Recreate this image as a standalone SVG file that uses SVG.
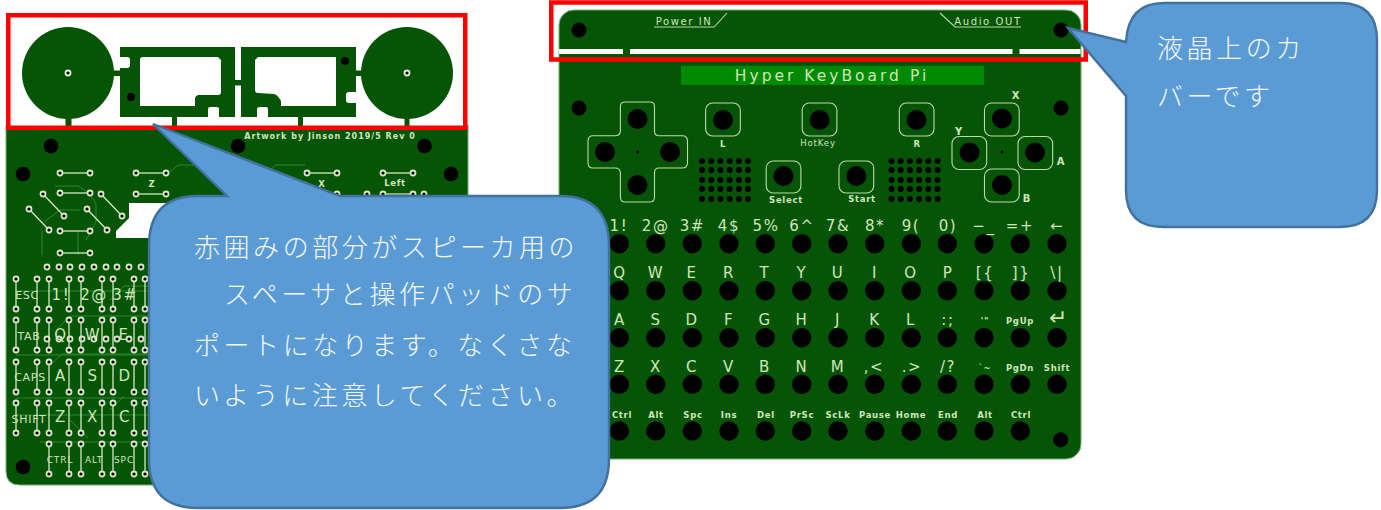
<svg xmlns="http://www.w3.org/2000/svg" xmlns:xlink="http://www.w3.org/1999/xlink" width="1381" height="510" viewBox="0 0 1381 510">
<style>
.board{fill:#065506}
.edge{stroke:#6fb56f;stroke-width:1}
.red{fill:none;stroke:#fe0000;stroke-width:4.5}
.trace{fill:none;stroke:#2c8a2c;stroke-width:1}
.wire{stroke:#d5e8c2;stroke-width:1.3;fill:none}
.outline{fill:none;stroke:#b9dca9;stroke-width:1.1}
.hole{fill:#000}
.t{font-family:"DejaVu Sans",sans-serif;fill:#cfe6ba;text-anchor:middle}
.k{font-size:15px;letter-spacing:1.6px}
.s{font-size:8.5px;letter-spacing:.7px;font-weight:bold}
.m{font-size:9px;letter-spacing:.9px}
.l{font-size:11px;letter-spacing:.7px}
.bubble{fill:#5b9bd5;stroke:#41719c;stroke-width:2.4}
.jp{font-family:"Noto Sans CJK JP",sans-serif;font-size:26px;letter-spacing:3.55px;fill:#f4f8fc;font-weight:300}
</style>
<defs>
<g id="pad"><circle r="3.4" fill="#d8e6c4"/><circle r="1.6" fill="#000"/></g>
<g id="pair"><line class="wire" x1="0" y1="0" x2="0" y2="30"/><use xlink:href="#pad"/><use xlink:href="#pad" y="30"/></g>
<g id="hpair"><line class="wire" x1="0" y1="0" x2="30" y2="0"/><use xlink:href="#pad"/><use xlink:href="#pad" x="30"/></g>
<g id="col"><use xlink:href="#pair" y="279"/><use xlink:href="#pair" y="320"/><use xlink:href="#pair" y="362"/><use xlink:href="#pair" y="403"/></g>
<g id="keys"><circle class="hole" cx="619.3" r="9.7"/><circle class="hole" cx="655.7" r="9.7"/><circle class="hole" cx="692.3" r="9.7"/><circle class="hole" cx="729" r="9.7"/><circle class="hole" cx="765.3" r="9.7"/><circle class="hole" cx="801.7" r="9.7"/><circle class="hole" cx="838" r="9.7"/><circle class="hole" cx="874.7" r="9.7"/><circle class="hole" cx="911.3" r="9.7"/><circle class="hole" cx="947.3" r="9.7"/><circle class="hole" cx="984" r="9.7"/><circle class="hole" cx="1020.3" r="9.7"/></g>
<g id="padrow"><use xlink:href="#pad" x="47"/><use xlink:href="#pad" x="59"/><use xlink:href="#pad" x="70"/><use xlink:href="#pad" x="82"/><use xlink:href="#pad" x="94"/><use xlink:href="#pad" x="106"/><use xlink:href="#pad" x="117"/><use xlink:href="#pad" x="129"/><use xlink:href="#pad" x="141"/></g>
<g id="dotrow"><circle class="hole" cx="0" r="3"/><circle class="hole" cx="9.2" r="3"/><circle class="hole" cx="18.4" r="3"/><circle class="hole" cx="27.6" r="3"/><circle class="hole" cx="36.8" r="3"/><circle class="hole" cx="46" r="3"/></g>
<g id="dotgrid"><use xlink:href="#dotrow" y="161"/><use xlink:href="#dotrow" y="170"/><use xlink:href="#dotrow" y="180"/><use xlink:href="#dotrow" y="189"/><use xlink:href="#dotrow" y="199"/></g>
</defs>
<rect width="1381" height="510" fill="#fff"/>

<g id="left-board">
<path class="board edge" d="M6 125H468V485H20Q6 485 6 471Z"/>
<path d="M129 203H175V238H116V231L129 218Z" fill="#fff"/>
<g class="trace">
<path d="M170 172L178 165H230L240 172"/><path d="M268 172L276 165H305"/>
<path d="M55 186L78 186L88 192L96 204V222L86 240"/><path d="M44 222L60 210H80"/><path d="M42 230V255"/><path d="M78 232V255"/>
<path d="M16 291H148"/><path d="M16 355H148"/><path d="M49 366L62 354H148"/><path d="M16 398H148"/><path d="M16 415H148"/><path d="M40 442H148"/><path d="M70 420L88 438"/><path d="M110 410L124 396"/><path d="M58 328L70 316H148"/><path d="M110 300L124 286H148"/>
</g>
<g>
<circle class="hole" cx="51" cy="146" r="7.3"/><circle class="hole" cx="238" cy="146" r="7.3"/><circle class="hole" cx="424.5" cy="146" r="7.3"/><circle class="hole" cx="23" cy="174" r="7.3"/><circle class="hole" cx="451" cy="174" r="7.3"/><circle class="hole" cx="23" cy="467" r="7.3"/>
</g>
<text class="t s" x="330" y="139" style="font-size:8px;letter-spacing:1px">Artwork by Jinson 2019/5 Rev 0</text>
<text class="t s" x="152" y="187">Z</text><text class="t s" x="322" y="187">X</text><text class="t s" x="395" y="186">Left</text>
<use xlink:href="#hpair" x="60" y="173"/><use xlink:href="#hpair" x="60" y="193"/><use xlink:href="#hpair" x="60" y="231"/><use xlink:href="#hpair" x="60" y="253"/>
<use xlink:href="#hpair" x="136" y="173"/><use xlink:href="#hpair" x="136" y="194"/><use xlink:href="#hpair" x="307" y="173"/><use xlink:href="#hpair" x="307" y="194"/><use xlink:href="#hpair" x="383" y="173"/><use xlink:href="#hpair" x="383" y="194"/>
<use xlink:href="#pad" x="367" y="194"/><use xlink:href="#pad" x="424" y="194"/>
<g class="wire"><line x1="43" y1="194" x2="64" y2="216"/><line x1="101" y1="194" x2="122" y2="216"/><line x1="29" y1="209" x2="49" y2="230"/><line x1="87" y1="209" x2="107" y2="230"/></g>
<use xlink:href="#pad" x="43" y="194"/><use xlink:href="#pad" x="64" y="216"/><use xlink:href="#pad" x="101" y="194"/><use xlink:href="#pad" x="122" y="216"/><use xlink:href="#pad" x="29" y="209"/><use xlink:href="#pad" x="49" y="230"/><use xlink:href="#pad" x="87" y="209"/><use xlink:href="#pad" x="107" y="230"/>
<use xlink:href="#padrow" y="267"/><use xlink:href="#padrow" y="339"/>
<use xlink:href="#col" x="16"/><use xlink:href="#col" x="37"/><use xlink:href="#col" x="49"/><use xlink:href="#col" x="69"/><use xlink:href="#col" x="81"/><use xlink:href="#col" x="102"/><use xlink:href="#col" x="113"/><use xlink:href="#col" x="134"/><use xlink:href="#col" x="145"/>
<use xlink:href="#pair" x="49" y="444"/><use xlink:href="#pair" x="69" y="444"/><use xlink:href="#pair" x="81" y="444"/><use xlink:href="#pair" x="102" y="444"/><use xlink:href="#pair" x="113" y="444"/><use xlink:href="#pair" x="134" y="444"/><use xlink:href="#pair" x="145" y="444"/>
<g>
<text class="t l" x="27" y="299">ESC</text><text class="t k" x="61" y="300">1!</text><text class="t k" x="94" y="300">2@</text><text class="t k" x="125" y="300">3#</text>
<text class="t l" x="29" y="340">TAB</text><text class="t k" x="61" y="340">Q</text><text class="t k" x="93" y="340">W</text><text class="t k" x="124" y="340">E</text>
<text class="t l" x="30" y="381">CAPS</text><text class="t k" x="61" y="381">A</text><text class="t k" x="93" y="381">S</text><text class="t k" x="125" y="381">D</text>
<text class="t l" x="29" y="423">SHIFT</text><text class="t k" x="61" y="422">Z</text><text class="t k" x="93" y="422">X</text><text class="t k" x="125" y="422">C</text>
<text class="t m" x="60" y="463">CTRL</text><text class="t m" x="94" y="463">ALT</text><text class="t m" x="124" y="463">SPC</text>
</g>
</g>

<g id="speaker-spacer">
<rect x="7" y="14" width="459" height="114" fill="#fff"/>
<g class="board">
<circle cx="68" cy="73" r="46"/><circle cx="407" cy="73" r="46"/>
<rect x="65.500" y="116" width="6" height="12"/><rect x="172" y="116" width="5" height="12"/><rect x="298" y="116" width="5" height="12"/><rect x="404.500" y="116" width="5" height="12"/>
<rect x="112" y="70.500" width="10" height="5.500"/><rect x="354" y="70.500" width="10" height="5.500"/><rect x="234" y="80" width="8" height="5.500"/>
<path fill-rule="evenodd" d="M120 47H235V117H219V109Q219 107 217 107H210Q208 107 208 109V117H120V68H127Q130 68 130 65V60Q130 57 127 57H120ZM143 57Q140 57 140 60V106H195V99Q195 96 198 95H218Q221 95 221 92V60L218 57Z"/>
<path fill-rule="evenodd" d="M241 47H356V92H349Q346 92 346 95V100Q346 103 349 103H356V117H268V109Q268 107 266 107H260Q257 107 257 109V117H241ZM258 57L255 60V90Q255 93 258 93L274 94Q278 95 281 101V106H336V57Z"/>
</g>
<circle cx="68" cy="73" r="3.400" fill="#e8ecd8"/><circle cx="68" cy="73" r="1.600" fill="#000"/>
<circle cx="407" cy="73" r="3.400" fill="#e8ecd8"/><circle cx="407" cy="73" r="1.600" fill="#000"/>
<circle class="hole" cx="131" cy="97" r="4"/><circle class="hole" cx="345" cy="61" r="4"/>
<rect class="red" x="8.250" y="15.250" width="457" height="112.500"/>
</g>

<g id="right-board">
<rect class="board edge" x="559" y="10" width="522" height="449" rx="15"/>
<g fill="#fff"><rect x="559" y="49" width="64" height="5"/><rect x="630" y="49" width="382.500" height="5"/><rect x="1019.500" y="49" width="61" height="5"/></g>
<path class="outline" d="M654 27H714L727 13M1021 27H955L940 13"/>
<text class="t m" x="684" y="25" style="font-size:10px;letter-spacing:1.6px">Power IN</text>
<text class="t m" x="988" y="25" style="font-size:10px;letter-spacing:1.6px">Audio OUT</text>
<rect x="681" y="66" width="303" height="19" fill="#008a00"/>
<text class="t" x="832" y="80.500" font-size="15.500" style="letter-spacing:3px">Hyper KeyBoard Pi</text>
<circle class="hole" cx="579" cy="30" r="7.500"/><circle class="hole" cx="1061" cy="30" r="7.500"/><circle class="hole" cx="579" cy="108" r="7.500"/><circle class="hole" cx="1061" cy="108" r="7.500"/>
<path class="outline" d="M625 102H650Q654.500 102 654.500 106.500V131Q654.500 135.700 659 135.700H682Q687.500 135.700 687.500 141V163Q687.500 168 682 168H659Q654.500 168 654.500 173V197Q654.500 202 650 202H625Q620.400 202 620.400 197V173Q620.400 168 615 168H593Q588 168 588 163V141Q588 135.700 593 135.700H615Q620.400 135.700 620.400 131V106.500Q620.400 102 625 102Z"/>
<g class="outline">
<rect x="705.600" y="103" width="34.700" height="33" rx="7"/><rect x="802.200" y="103" width="34.700" height="33" rx="7"/><rect x="899.300" y="103" width="34.700" height="33" rx="7"/>
<rect x="766.200" y="161" width="34.700" height="32" rx="7"/><rect x="839" y="161" width="34.700" height="32" rx="7"/>
<rect x="984.500" y="103" width="34.700" height="33" rx="7"/><rect x="984.500" y="169" width="34.700" height="33" rx="7"/><rect x="952" y="136.500" width="34.700" height="33" rx="7"/><rect x="1018" y="136.500" width="34.700" height="33" rx="7"/>
</g>
<g>
<circle class="hole" cx="637.500" cy="119" r="10"/><circle class="hole" cx="637.500" cy="185" r="10"/><circle class="hole" cx="605" cy="152" r="10"/><circle class="hole" cx="670" cy="152" r="10"/><circle class="hole" cx="637.500" cy="152" r="1.500"/>
<circle class="hole" cx="723" cy="120" r="10"/><circle class="hole" cx="819.600" cy="120" r="10"/><circle class="hole" cx="916.500" cy="120" r="10"/>
<circle class="hole" cx="783.500" cy="176" r="10"/><circle class="hole" cx="856.300" cy="176" r="10"/>
<circle class="hole" cx="1002" cy="118.500" r="10"/><circle class="hole" cx="1002" cy="185" r="10"/><circle class="hole" cx="969.500" cy="152.500" r="10"/><circle class="hole" cx="1035" cy="152.500" r="10"/><circle class="hole" cx="1002" cy="152" r="1.500"/>
</g>
<use xlink:href="#dotgrid" x="702"/><use xlink:href="#dotgrid" x="891.500"/>
<text class="t s" x="723" y="147">L</text><text class="t m" x="818" y="146" style="font-size:8.500px">HotKey</text><text class="t s" x="917" y="147">R</text>
<text class="t s" x="786" y="203">Select</text><text class="t s" x="862" y="202">Start</text>
<text class="t s" x="1016" y="99" style="font-size:10px">X</text><text class="t s" x="959" y="135" style="font-size:10px">Y</text><text class="t s" x="1061" y="165" style="font-size:10px">A</text><text class="t s" x="1027" y="202" style="font-size:10px">B</text>
<use xlink:href="#keys" y="243.700"/><use xlink:href="#keys" y="290.700"/><use xlink:href="#keys" y="337.700"/><use xlink:href="#keys" y="384.300"/><use xlink:href="#keys" y="431"/>
<circle class="hole" cx="1057" cy="243.700" r="9.700"/><circle class="hole" cx="1057" cy="290.700" r="9.700"/><circle class="hole" cx="1057" cy="337.700" r="9.700"/><circle class="hole" cx="1057" cy="384.300" r="9.700"/><circle class="hole" cx="1060.700" cy="439.700" r="7.500"/>
<g>
<text class="t k" x="619" y="231">1!</text><text class="t k" x="655.700" y="231">2@</text><text class="t k" x="692.300" y="231">3#</text><text class="t k" x="729" y="231">4$</text><text class="t k" x="766" y="231">5%</text><text class="t k" x="802" y="231">6^</text><text class="t k" x="838" y="231">7&amp;</text><text class="t k" x="875" y="231">8*</text><text class="t k" x="911" y="231">9(</text><text class="t k" x="948" y="231">0)</text><text class="t k" x="984" y="231">−_</text><text class="t k" x="1020" y="231">=+</text><text class="t k" x="1057" y="231">←</text>
<text class="t k" x="620" y="278">Q</text><text class="t k" x="656" y="278">W</text><text class="t k" x="692" y="278">E</text><text class="t k" x="729" y="278">R</text><text class="t k" x="765" y="278">T</text><text class="t k" x="802" y="278">Y</text><text class="t k" x="838" y="278">U</text><text class="t k" x="875" y="278">I</text><text class="t k" x="911" y="278">O</text><text class="t k" x="948" y="278">P</text><text class="t k" x="985" y="278">[{</text><text class="t k" x="1021" y="278">]}</text><text class="t k" x="1057" y="278">\|</text>
<text class="t k" x="620" y="325">A</text><text class="t k" x="656" y="325">S</text><text class="t k" x="692" y="325">D</text><text class="t k" x="729" y="325">F</text><text class="t k" x="765" y="325">G</text><text class="t k" x="802" y="325">H</text><text class="t k" x="838" y="325">J</text><text class="t k" x="875" y="325">K</text><text class="t k" x="911" y="325">L</text><text class="t k" x="948" y="325">:;</text><text class="t s" x="985" y="324">'"</text><text class="t s" x="1020" y="324">PgUp</text><text class="t" x="1058" y="325" font-size="22">↵</text>
<text class="t k" x="620" y="372">Z</text><text class="t k" x="656" y="372">X</text><text class="t k" x="692" y="372">C</text><text class="t k" x="729" y="372">V</text><text class="t k" x="765" y="372">B</text><text class="t k" x="802" y="372">N</text><text class="t k" x="838" y="372">M</text><text class="t k" x="874" y="372">,&lt;</text><text class="t k" x="912" y="372">.&gt;</text><text class="t k" x="948" y="372">/?</text><text class="t s" x="985" y="371">`~</text><text class="t s" x="1020" y="371">PgDn</text><text class="t s" x="1057" y="371">Shift</text>
<text class="t s" x="622" y="418">Ctrl</text><text class="t s" x="656" y="418">Alt</text><text class="t s" x="693" y="418">Spc</text><text class="t s" x="729" y="418">Ins</text><text class="t s" x="766" y="418">Del</text><text class="t s" x="802" y="418">PrSc</text><text class="t s" x="838" y="418">ScLk</text><text class="t s" x="875" y="418">Pause</text><text class="t s" x="911" y="418">Home</text><text class="t s" x="948" y="418">End</text><text class="t s" x="985" y="418">Alt</text><text class="t s" x="1021" y="418">Ctrl</text>
</g>
<rect class="red" x="551.250" y="2.500" width="534.500" height="57"/>
</g>

<g id="callout-spacer">
<path class="bubble" d="M153 124L340 196H560Q609 196 609 246V459Q609 508 560 508H198Q149 508 149 459V246Q149 196 198 196H227Z"/>
<text class="jp" x="194" y="257">赤囲みの部分がスピーカ用の</text>
<text class="jp" x="224" y="304">スペーサと操作パッドのサ</text>
<text class="jp" x="194" y="355">ポートになります。なくさな</text>
<text class="jp" x="194" y="405">いように注意してください。</text>
</g>

<g id="callout-cover">
<path class="bubble" d="M1068 28L1126 42Q1128 3 1164 3H1340Q1377 3 1377 40V190Q1377 227 1340 227H1163Q1126 227 1126 190V96Z"/>
<text class="jp" x="1157" y="58">液晶上のカ</text>
<text class="jp" x="1157" y="106">バーです</text>
</g>
</svg>
